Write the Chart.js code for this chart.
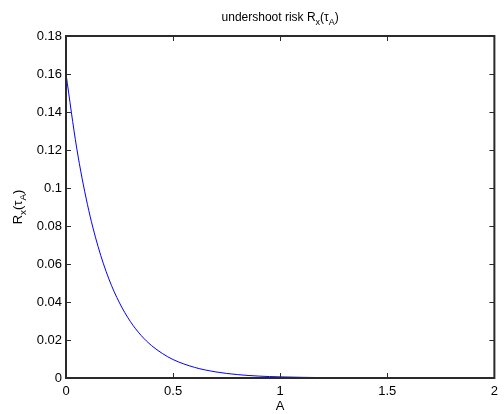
<!DOCTYPE html>
<html>
<head>
<meta charset="utf-8">
<script src="https://cdn.jsdelivr.net/npm/chart.js@4/dist/chart.umd.min.js"></script>
<style>
  html, body { margin: 0; padding: 0; background: #fff; }
  #wrap { width: 504px; height: 414px; }
</style>
</head>
<body>
<div id="wrap"><canvas id="riskChart" width="504" height="414"></canvas></div>
<script>
// Datos
const valoresA = [0, 0.05, 0.1, 0.15, 0.2, 0.25, 0.3, 0.35, 0.4, 0.45, 0.5, 0.6, 0.7, 0.8, 0.9, 1.0, 1.2, 1.4, 1.6, 1.8, 2.0];
const riesgo = [0.16, 0.121, 0.0914, 0.0691, 0.0522, 0.0395, 0.0298, 0.0225, 0.017, 0.0129, 0.0097,
  0.0056, 0.0032, 0.0018, 0.001, 0.0006, 0.0002, 0.0001, 0.00002, 0, 0];
const ticksX = [0, 0.5, 1, 1.5, 2];
const ticksY = [0, 0.02, 0.04, 0.06, 0.08, 0.1, 0.12, 0.14, 0.16, 0.18];

const fuente = '"Liberation Sans", Arial, sans-serif';

// Texto con subíndices: partes [texto, esSubindice]
function medirPartes(ctx, partes, tam) {
  let w = 0;
  partes.forEach(([t, sub]) => {
    ctx.font = (sub ? tam * 0.75 : tam) + 'px ' + fuente;
    w += ctx.measureText(t).width;
  });
  return w;
}
function dibujarPartes(ctx, partes, x, y, tam) {
  let cx = x;
  partes.forEach(([t, sub]) => {
    ctx.font = (sub ? tam * 0.75 : tam) + 'px ' + fuente;
    ctx.fillText(t, cx, sub ? y + tam * 0.3 : y);
    cx += ctx.measureText(t).width;
  });
}

// Marco de ejes, marcas hacia dentro y textos
const marcoMatlab = {
  id: 'marcoMatlab',
  afterDraw(chart) {
    const ctx = chart.ctx;
    const { left, right, top, bottom } = chart.chartArea;
    const sx = chart.scales.x;
    const sy = chart.scales.y;
    ctx.save();
    ctx.strokeStyle = '#2a2a2a';
    ctx.lineWidth = 2;
    ctx.strokeRect(left, top, right - left, bottom - top);
    ctx.lineWidth = 1;
    ctx.beginPath();
    const largo = 5;
    ticksX.forEach(v => {
      const px = Math.round(sx.getPixelForValue(v)) + 0.5;
      ctx.moveTo(px, bottom); ctx.lineTo(px, bottom - largo);
      ctx.moveTo(px, top); ctx.lineTo(px, top + largo);
    });
    ticksY.forEach(v => {
      const py = Math.round(sy.getPixelForValue(v)) + 0.5;
      ctx.moveTo(left, py); ctx.lineTo(left + largo, py);
      ctx.moveTo(right, py); ctx.lineTo(right - largo, py);
    });
    ctx.stroke();

    ctx.fillStyle = '#000';
    ctx.textBaseline = 'alphabetic';
    const tam = 12;
    // título
    const titulo = [['undershoot risk R', false], ['x', true], ['(\u03C4', false], ['A', true], [')', false]];
    const wt = medirPartes(ctx, titulo, tam);
    dibujarPartes(ctx, titulo, (left + right) / 2 - wt / 2, 21, tam);
    // etiqueta eje x
    ctx.font = '13px ' + fuente;
    ctx.textAlign = 'center';
    ctx.fillText('A', (left + right) / 2, 410);
    ctx.textAlign = 'left';
    // etiqueta eje y
    const etiquetaY = [['R', false], ['x', true], ['(\u03C4', false], ['A', true], [')', false]];
    const wy = medirPartes(ctx, etiquetaY, 13);
    ctx.translate(22, (top + bottom) / 2);
    ctx.rotate(-Math.PI / 2);
    dibujarPartes(ctx, etiquetaY, -wy / 2, 0, 13);
    ctx.restore();
  }
};

const ctxRiesgo = document.getElementById('riskChart').getContext('2d');
const riskChart = new Chart(ctxRiesgo, {
  type: 'line',
  data: {
    datasets: [{
      data: valoresA.map((a, i) => ({ x: a, y: riesgo[i] })),
      borderColor: '#0000ff',
      borderWidth: 1,
      pointRadius: 0,
      fill: false,
      cubicInterpolationMode: 'monotone'
    }]
  },
  options: {
    responsive: false,
    animation: false,
    events: [],
    layout: { padding: { top: 36, right: 5, left: 0, bottom: 0 } },
    plugins: { legend: { display: false }, title: { display: false }, tooltip: { enabled: false } },
    scales: {
      x: {
        type: 'linear', min: 0, max: 2,
        grid: { display: false, drawTicks: false },
        border: { display: false },
        afterBuildTicks: s => { s.ticks = ticksX.map(v => ({ value: v })); },
        afterFit: s => { s.height = 36; },
        ticks: { color: '#000', font: { family: fuente, size: 13 }, padding: 6, maxRotation: 0,
          callback: v => String(v) }
      },
      y: {
        min: 0, max: 0.18,
        grid: { display: false, drawTicks: false },
        border: { display: false },
        afterBuildTicks: s => { s.ticks = ticksY.map(v => ({ value: v })); },
        afterFit: s => { s.width = 66; },
        ticks: { color: '#000', font: { family: fuente, size: 13 }, padding: 4,
          callback: v => String(+v.toFixed(2)) }
      }
    }
  },
  plugins: [marcoMatlab]
});
</script>
</body>
</html>
